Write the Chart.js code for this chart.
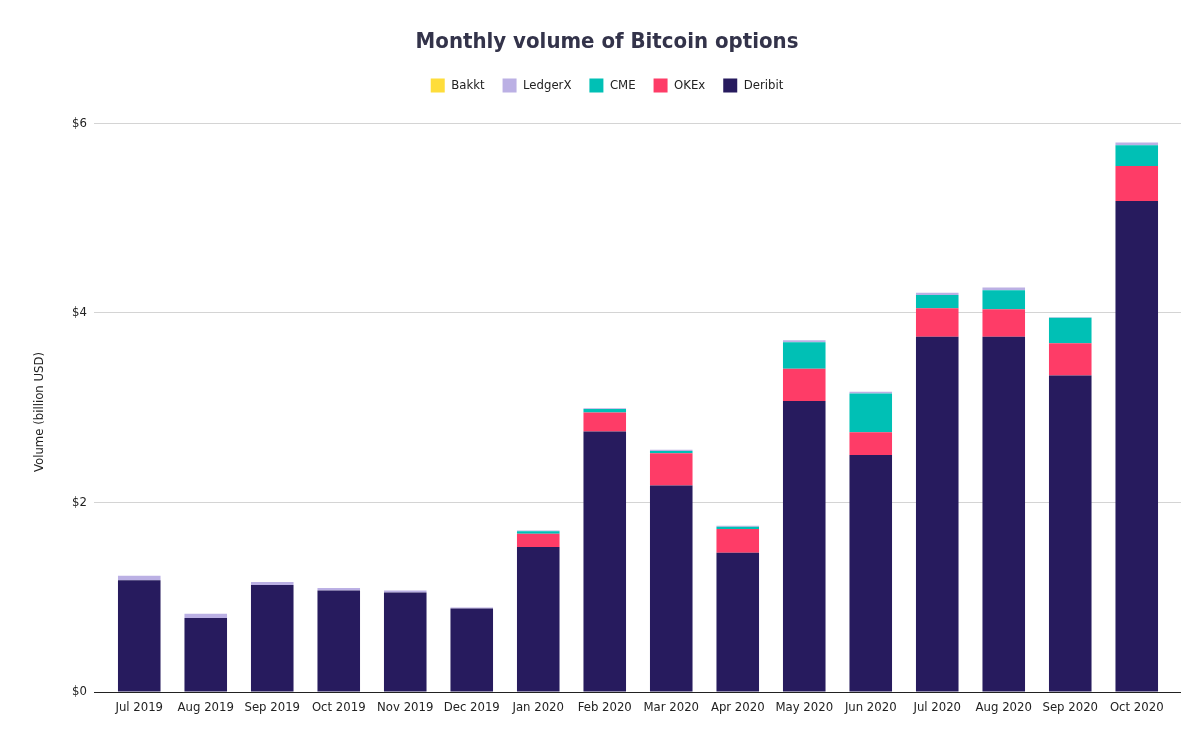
<!DOCTYPE html>
<html>
<head>
<meta charset="utf-8">
<script src="https://cdn.jsdelivr.net/npm/chart.js@4.4.0/dist/chart.umd.min.js"></script>
<style>
html,body{margin:0;padding:0;background:#fff;}
#wrap{width:1200px;height:740px;position:relative;}
</style>
</head>
<body>
<div id="wrap"><canvas id="c" width="1200" height="740"></canvas></div>
<script>
const months = ['Jul 2019','Aug 2019','Sep 2019','Oct 2019','Nov 2019','Dec 2019','Jan 2020','Feb 2020','Mar 2020','Apr 2020','May 2020','Jun 2020','Jul 2020','Aug 2020','Sep 2020','Oct 2020'];
const deribit = [1.18, 0.78, 1.13, 1.07, 1.05, 0.88, 1.53, 2.75, 2.18, 1.47, 3.07, 2.50, 3.75, 3.75, 3.34, 5.18];
const okex    = [0, 0, 0, 0, 0, 0, 0.14, 0.20, 0.34, 0.25, 0.34, 0.24, 0.30, 0.29, 0.34, 0.37];
const cme     = [0, 0, 0, 0, 0, 0, 0.025, 0.035, 0.024, 0.025, 0.28, 0.41, 0.14, 0.20, 0.27, 0.22];
const ledgerx = [0.047, 0.045, 0.032, 0.028, 0.021, 0.011, 0.010, 0.010, 0.011, 0.010, 0.021, 0.017, 0.022, 0.028, 0.004, 0.029];
const bakkt   = [0, 0, 0, 0, 0, 0.0003, 0.0003, 0.0003, 0.0003, 0.0003, 0.0005, 0.0005, 0.0005, 0.0005, 0.0005, 0.0005];
const yTicks  = [0, 2, 4, 6];

const FONT = "'DejaVu Sans Condensed', 'DejaVu Sans', sans-serif";
const GRID = '#d4d4d4';
const AXIS = '#222222';

const yTitlePlugin = {
  id: 'yTitle',
  afterDraw(chart) {
    const ctx = chart.ctx;
    ctx.save();
    ctx.translate(40, 412);
    ctx.rotate(-Math.PI / 2);
    ctx.font = "13px " + FONT;
    ctx.fillStyle = '#222222';
    ctx.textAlign = 'center';
    ctx.textBaseline = 'middle';
    ctx.fillText('Volume (billion USD)', 0, 0);
    ctx.restore();
  }
};

function ds(label, data, color) {
  return { label, data, backgroundColor: color, borderWidth: 0, stack: 's',
           categoryPercentage: 1.0, barPercentage: 0.64 };
}

new Chart(document.getElementById('c'), {
  type: 'bar',
  data: {
    labels: months,
    datasets: [
      ds('Deribit', deribit, '#271b5e'),
      ds('OKEx', okex, '#fe3c67'),
      ds('CME', cme, '#00c0b5'),
      ds('LedgerX', ledgerx, '#bbb0e4'),
      ds('Bakkt', bakkt, '#fedd3b')
    ]
  },
  options: {
    responsive: false,
    animation: false,
    devicePixelRatio: 1,
    layout: { padding: { left: 33, right: 19, top: 0, bottom: 0 } },
    plugins: {
      title: {
        display: true,
        text: 'Monthly volume of Bitcoin options',
        color: '#33334a',
        font: { family: FONT, size: 22, weight: 'bold', lineHeight: 1.2 },
        padding: { top: 29, bottom: 5 }
      },
      subtitle: {
        display: true,
        text: '',
        weight: 500,
        font: { size: 10, lineHeight: 1 },
        padding: { top: 11, bottom: 0 }
      },
      legend: {
        display: true,
        reverse: true,
        labels: {
          boxWidth: 14, boxHeight: 14, padding: 18,
          color: '#222222',
          font: { family: FONT, size: 13 }
        }
      },
      tooltip: { enabled: false }
    },
    scales: {
      x: {
        stacked: true,
        grid: { display: false, drawTicks: false, tickLength: 0 },
        border: { display: true, color: AXIS, width: 1 },
        ticks: { color: '#222222', font: { family: FONT, size: 13 }, padding: 8, maxRotation: 0, autoSkip: false },
        afterFit(s) { s.height = 48; }
      },
      y: {
        stacked: true,
        min: 0, max: 6,
        afterBuildTicks(s) { s.ticks = yTicks.map(v => ({ value: v })); },
        grid: {
          color: ctx => (ctx.tick && ctx.tick.value === 0) ? AXIS : GRID,
          lineWidth: 1, tickLength: 12, drawTicks: true
        },
        border: { display: false },
        ticks: {
          color: '#222222', padding: 7,
          font: { family: FONT, size: 13 },
          callback: v => '$' + v
        },
        afterFit(s) { s.width = 73; }
      },
      yr: {
        position: 'right',
        stacked: true,
        min: 0, max: 6,
        afterBuildTicks(s) { s.ticks = yTicks.map(v => ({ value: v })); },
        grid: {
          color: ctx => (ctx.tick && ctx.tick.value === 0) ? AXIS : GRID,
          lineWidth: 1, tickLength: 11, drawTicks: true, drawOnChartArea: false
        },
        border: { display: false },
        ticks: { display: false },
        afterFit(s) { s.width = 11; }
      }
    }
  },
  plugins: [yTitlePlugin]
});
</script>
</body>
</html>
